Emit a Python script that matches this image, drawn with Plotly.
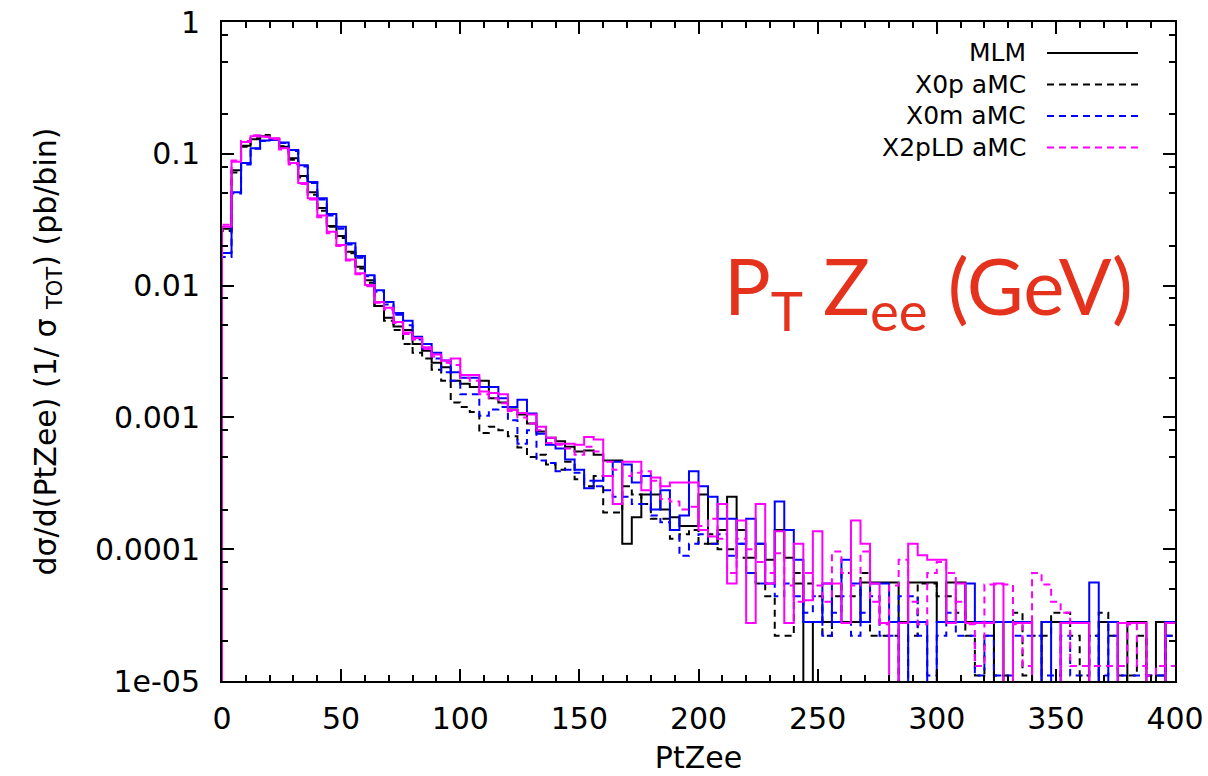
import plotly.graph_objects as go

# ---------------- data (per-bin values, bin width 4 GeV, 0..400) ----------------
bin_edges = list(range(0, 401, 4))

mlm = [
    0.027, 0.075, 0.115, 0.129, 0.136, 0.127, 0.113, 0.0925, 0.068, 0.051,
    0.0388, 0.0283, 0.0238, 0.0181, 0.0139, 0.0110, 0.0070, 0.0057, 0.0049, 0.0046,
    0.0036, 0.0032, 0.0026, 0.0024, 0.0019, 0.0018, 0.0017, 0.0019, 0.0014, 0.0013,
    0.00115, 0.00105, 0.00090, 0.00078, 0.00070, 0.00066, 0.00060, 0.00055, 0.00056, 0.00052,
    0.00047, 0.00047, 0.00011, 0.000175, 0.00026, 0.00026, 0.00020, 0.000175, 0.00015, 0.00015,
    0.00026, 0.00011, 0.00014, 0.00025, 0.00014, 0.000086, 0.00011, 0.000083, 0.00014, 0.000086,
    0.000055, 0, 0.000028, 0.000028, 0.000028, 0.000028, 0.000028, 0.000056, 0.000056, 0.000056,
    0.000056, 0.000028, 0.000056, 0.000056, 0.000056, 0.000028, 0.000056, 0.000056, 0.000028, 0.000028,
    0.000028, 0, 0.000028, 0.000028, 0.000028, 0, 0.000028, 0.000028, 0.000028, 0.000028,
    0.000028, 0, 0.000028, 0.000028, 0, 0.000028, 0.000028, 0, 0.000028, 0,
]

x0p_amc = [
    0.026, 0.072, 0.113, 0.131, 0.139, 0.130, 0.114, 0.090, 0.066, 0.049,
    0.037, 0.028, 0.023, 0.0176, 0.0135, 0.0105, 0.0070, 0.0054, 0.0046, 0.0036,
    0.0031, 0.0028, 0.0023, 0.0019, 0.0013, 0.0012, 0.0011, 0.00076, 0.00085, 0.00080,
    0.00072, 0.00059, 0.00050, 0.00052, 0.00044, 0.00040, 0.00046, 0.00034, 0.00030, 0.00036,
    0.00019, 0.00019, 0.00030, 0.00026, 0.00022, 0.00017, 0.00017, 0.00012, 0.00013, 0.00014,
    0.00011, 0.00013, 0.00010, 0.00010, 0.000086, 0.000066, 0.000055, 0.000044, 0.000022, 0.000022,
    0.000066, 0.000055, 0.000044, 0.000022, 0.000044, 0.000066, 0.000044, 0.000066, 0.000022, 0.000022,
    0.000022, 0, 0.000022, 0.000055, 0.000055, 0.000044, 0.000044, 0.000033, 0.000022, 0.000011,
    0.000022, 0.000011, 0.000011, 0.000033, 0.000011, 0.000022, 0.000022, 0.000033, 0.000033, 0.000022,
    0.000011, 0.000022, 0.000033, 0.000022, 0.000011, 0.000011, 0.000022, 0.000011, 0.000011, 0.000022,
]

x0m_amc = [
    0.0165, 0.050, 0.083, 0.109, 0.125, 0.127, 0.121, 0.105, 0.080, 0.060,
    0.045, 0.034, 0.027, 0.0205, 0.0163, 0.0118, 0.0090, 0.0072, 0.0060, 0.0050,
    0.0039, 0.0033, 0.0028, 0.0022, 0.0019, 0.0015, 0.0015, 0.00103, 0.00115, 0.0012,
    0.00095, 0.00063, 0.00080, 0.00047, 0.00045, 0.00039, 0.00040, 0.00038, 0.00033, 0.00030,
    0.00028, 0.00025, 0.00025, 0.00022, 0.00022, 0.00018, 0.00016, 0.00014, 0.000089, 0.00011,
    0.00013, 0.00011, 0.00013, 0.000089, 0.00011, 0.000066, 0.000055, 0.000055, 0.000044, 0.000055,
    0.000044, 0.000033, 0.000044, 0.000022, 0.000033, 0.000044, 0.000022, 0.000033, 0.000044, 0.000022,
    0.000022, 0.000044, 0.000044, 0.000022, 0.000011, 0.000022, 0.000033, 0.000022, 0.000022, 0.000011,
    0.000022, 0.000011, 0.000011, 0.000022, 0.000022, 0.000022, 0.000011, 0.000011, 0.000022, 0.000011,
    0.000011, 0.000022, 0.000011, 0.000022, 0.000011, 0.000011, 0.000011, 0.000011, 0.000011, 0.000022,
]

x2pld_amc = [
    0.029, 0.089, 0.125, 0.138, 0.134, 0.129, 0.108, 0.083, 0.059, 0.045,
    0.033, 0.025, 0.020, 0.0155, 0.0122, 0.0099, 0.0074, 0.0066, 0.0052, 0.0043,
    0.0039, 0.0033, 0.0029, 0.0026, 0.0025, 0.0020, 0.0019, 0.0015, 0.0014, 0.00128,
    0.00112, 0.00100, 0.00090, 0.00080, 0.00064, 0.00062, 0.00058, 0.00052, 0.00060, 0.00055,
    0.00046, 0.00040, 0.00036, 0.00038, 0.00039, 0.00033, 0.00024, 0.00023, 0.00020, 0.00021,
    0.00015, 0.00017, 0.00012, 0.000066, 0.00012, 0.00010, 0.000080, 0.000066, 0.000093, 0.000053,
    0.000040, 0.000066, 0.000053, 0.000040, 0.000096, 0.000066, 0.000053, 0.000096, 0.000040, 0.000027,
    0.000053, 0.000083, 0.000040, 0.000027, 0.000066, 0.000080, 0.000066, 0.000040, 0.000027, 0.000013,
    0.000054, 0.000054, 0.000054, 0.000027, 0.000013, 0.000066, 0.000054, 0.000040, 0.000033, 0.000013,
    0.000013, 0.000013, 0.000013, 0.000013, 0.000013, 0.000027, 0.000013, 0.000011, 0.000013, 0.000013,
]

# companion histograms without legend entries (solid blue / solid magenta)
x0m_mlm = [
    0.0177, 0.051, 0.085, 0.110, 0.126, 0.128, 0.122, 0.107, 0.082, 0.061,
    0.046, 0.035, 0.028, 0.021, 0.0168, 0.0120, 0.0092, 0.0075, 0.0062, 0.0054,
    0.0041, 0.0036, 0.0031, 0.0027, 0.0022, 0.0020, 0.0020, 0.0017, 0.0017, 0.0014,
    0.00120, 0.00136, 0.00107, 0.00075, 0.00062, 0.00058, 0.00048, 0.00040, 0.00029, 0.00033,
    0.00036, 0.00046, 0.00044, 0.00032, 0.00036, 0.00020, 0.00028, 0.00014, 0.00018, 0.00039,
    0.00030, 0.00025, 0.00017, 0.00017, 0.00011, 0.00017, 0.00011, 0.000055, 0.00023, 0.00014,
    0.000083, 0.000028, 0.000028, 0.000055, 0.000028, 0.000083, 0.000055, 0.000028, 0.000055, 0.000055,
    0.000028, 0, 0.000028, 0.000028, 0, 0.000028, 0.000028, 0.000028, 0.000055, 0.000028,
    0.000028, 0.000028, 0.000028, 0.000028, 0.000028, 0, 0.000028, 0, 0.000028, 0.000028,
    0.000028, 0.000056, 0, 0.000028, 0, 0, 0, 0, 0, 0.000028,
]

x2pld_mlm = [
    0.028, 0.087, 0.123, 0.136, 0.135, 0.131, 0.110, 0.085, 0.060, 0.046,
    0.034, 0.0256, 0.0203, 0.0158, 0.0124, 0.0101, 0.0075, 0.0068, 0.0053, 0.0044,
    0.0040, 0.0034, 0.0030, 0.0027, 0.0028, 0.0021, 0.0021, 0.00157, 0.00153, 0.0015,
    0.00114, 0.00108, 0.00105, 0.00085, 0.00070, 0.00063, 0.00063, 0.00062, 0.00071, 0.00068,
    0.00036, 0.00022, 0.00046, 0.00046, 0.00028, 0.00035, 0.00030, 0.00032, 0.00032, 0.00032,
    0.00014, 0.000125, 0.00022, 0.000055, 0.000165, 0.0000275, 0.00022, 0.000055, 0.000137, 0.0000275,
    0.00011, 0.000041, 0.000137, 0.000055, 0.000055, 0.0000275, 0.000165, 0.00011, 0.000055, 0.0000275,
    0, 0.0000275, 0.00011, 0.00009, 0.000083, 0.000083, 0.0000275, 0.000055, 0.0000275, 0.0000275,
    0.0000275, 0.000055, 0, 0.0000275, 0.0000275, 0, 0, 0, 0.0000275, 0.0000275,
    0.0000275, 0, 0, 0, 0.0000275, 0.0000275, 0.0000275, 0, 0, 0.0000275,
]

y_tick_vals = [1e-5, 1e-4, 1e-3, 1e-2, 1e-1, 1]
y_tick_text = ["1e-05", "0.0001", "0.001", "0.01", "0.1", "1"]
y_minor_vals = [m * 10.0 ** k for k in range(-5, 0) for m in (2, 5, 8)]
x_tick_vals = [0, 50, 100, 150, 200, 250, 300, 350, 400]

# series: (values, legend label or None, colour, dash)
series = [
    (mlm, "MLM", "#000000", "solid"),
    (x0p_amc, "X0p aMC", "#000000", "7px,5px"),
    (x0m_amc, "X0m aMC", "#0000ff", "7px,5px"),
    (x0m_mlm, None, "#0000ff", "solid"),
    (x2pld_amc, "X2pLD aMC", "#ff00ff", "7px,5px"),
    (x2pld_mlm, None, "#ff00ff", "solid"),
]

FLOOR = 1e-9  # empty bins drawn down to below the axis (clipped)

W, H = 1208, 776
ML, MR, MT, MB = 222, 33, 22, 95
FONT = "DejaVu Sans"

fig = go.Figure()
for vals, label, col, dash in series:
    xs = [bin_edges[0]] + bin_edges[:-1] + [bin_edges[-1]]
    ys = [FLOOR] + [v if v > 0 else FLOOR for v in vals] + [vals[-1] if vals[-1] > 0 else FLOOR]
    fig.add_trace(go.Scatter(
        x=xs, y=ys, mode="lines", line_shape="hv",
        line=dict(color=col, width=2, dash=dash),
        name=label if label else "", showlegend=False, hoverinfo="skip",
    ))

# gnuplot-style key: right-aligned text, sample line to its right
pw, ph = W - ML - MR, H - MT - MB
def px_to_paper_x(px):
    return (px - ML) / pw
def px_to_paper_y(py):
    return (H - MB - py) / ph

legend_rows = [s for s in series if s[1]]
row_y0, row_dy = 53, 31.5
shapes, annotations = [], []
for i, (vals, label, col, dash) in enumerate(legend_rows):
    yy = px_to_paper_y(row_y0 + i * row_dy)
    annotations.append(dict(
        xref="paper", yref="paper", x=px_to_paper_x(1028), y=yy,
        xanchor="right", yanchor="middle", text=label, showarrow=False,
        font=dict(family=FONT, size=25, color="#000000"),
    ))
    shapes.append(dict(
        type="line", xref="paper", yref="paper",
        x0=px_to_paper_x(1047), x1=px_to_paper_x(1138), y0=yy, y1=yy,
        line=dict(color=col, width=2, dash=dash),
    ))

annotations.append(dict(
    xref="paper", yref="paper", x=px_to_paper_x(722), y=px_to_paper_y(290),
    xanchor="left", yanchor="middle", showarrow=False,
    text="P<sub>T</sub> Z<sub>ee</sub> (GeV)",
    font=dict(family="Lato", size=78, color="#e4321d"),
))

axis_common = dict(
    showline=True, linecolor="#000000", linewidth=2, mirror="ticks",
    ticks="inside", tickcolor="#000000", tickwidth=2, ticklen=12,
    showgrid=False, zeroline=False, automargin=False,
    tickfont=dict(family=FONT, size=30, color="#000000"),
)

fig.update_layout(
    width=W, height=H,
    margin=dict(l=ML, r=MR, t=MT, b=MB, autoexpand=False),
    paper_bgcolor="#ffffff", plot_bgcolor="#ffffff",
    showlegend=False,
    shapes=shapes, annotations=annotations,
    xaxis=dict(
        range=[0, 400], tickmode="array", tickvals=x_tick_vals,
        minor=dict(dtick=10, ticks="inside", ticklen=6, tickwidth=2, tickcolor="#000000"),
        title=dict(text="PtZee", font=dict(family=FONT, size=30, color="#000000"), standoff=12),
        ticklabelstandoff=10,
        **axis_common,
    ),
    yaxis=dict(
        type="log", range=[-5, 0], tickmode="array",
        tickvals=y_tick_vals, ticktext=y_tick_text,
        minor=dict(tickmode="array", tickvals=y_minor_vals, ticks="inside",
                   ticklen=6, tickwidth=2, tickcolor="#000000"),
        title=dict(text="dσ/d(PtZee) (1/ σ <sub>TOT</sub>) (pb/bin)",
                   font=dict(family=FONT, size=30, color="#000000"), standoff=30),
        ticklabelstandoff=14,
        **axis_common,
    ),
)

fig.write_html("out.html")
